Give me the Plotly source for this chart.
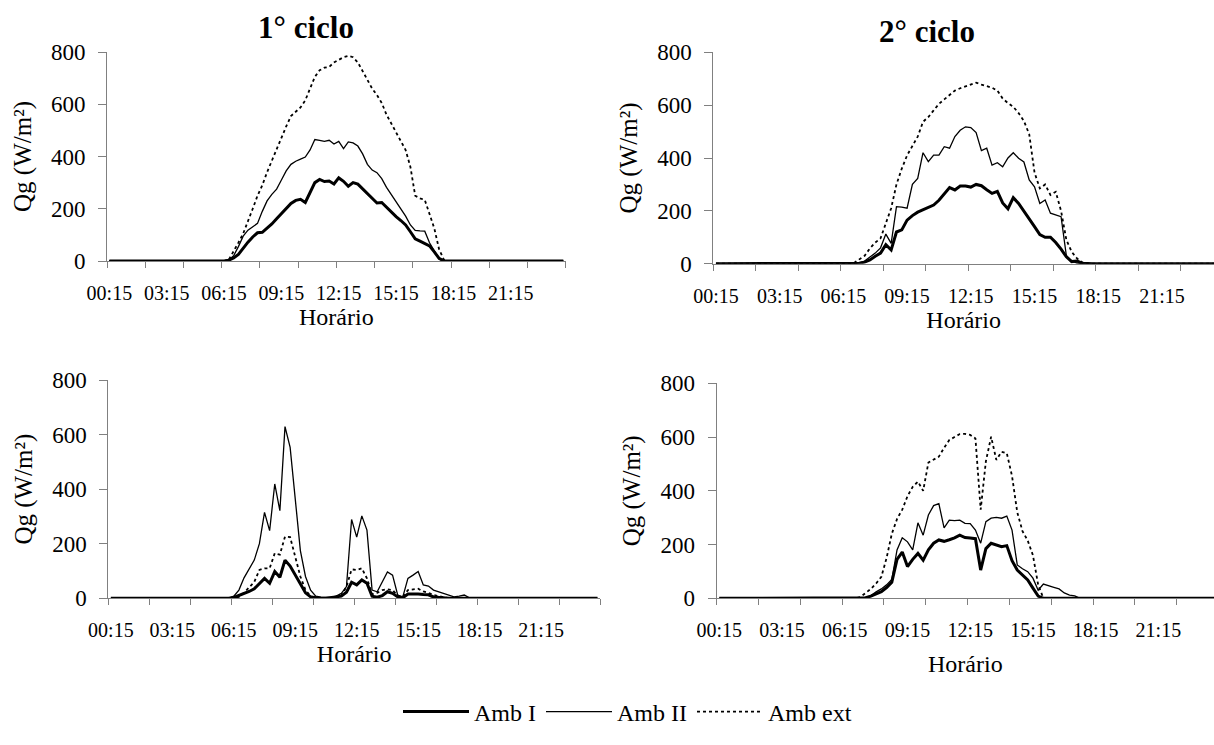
import numpy as np
import plotly.graph_objects as go

# ---------------- data ----------------
# 96 quarter-hour readings: 00:15 ... 24:00
horarios = [f"{((i + 1) * 15) // 60:02d}:{((i + 1) * 15) % 60:02d}" for i in range(96)]
tick_labels = ["00:15", "03:15", "06:15", "09:15", "12:15", "15:15", "18:15", "21:15"]
y_ticks = [0, 200, 400, 600, 800]

# 1st cycle, top panel
c1a_amb1 = [0] * 25 + [3, 12, 25, 50, 72, 92, 108, 110, 126, 142, 162, 180, 200, 220, 232, 236, 224, 262, 300, 312,
                       304, 306, 295, 318, 305, 286, 300, 294, 275, 256, 238, 222, 224, 205, 186, 170, 155, 138, 112, 85,
                       76, 68, 58, 35, 10] + [0] * 26
c1a_amb2 = [0] * 25 + [4, 20, 55, 95, 118, 132, 144, 190, 230, 255, 275, 310, 345, 370, 382, 390, 398, 425, 465, 462,
                       458, 462, 448, 458, 430, 456, 452, 440, 410, 370, 348, 338, 315, 282, 255, 228, 200, 172, 138, 117,
                       115, 114, 70, 38, 8] + [0] * 26
c1a_ext = [0] * 25 + [5, 35, 70, 105, 150, 200, 250, 290, 340, 385, 430, 475, 515, 555, 570, 588, 615, 660, 705, 730,
                      740, 743, 760, 770, 780, 785, 780, 760, 728, 695, 660, 635, 605, 560, 525, 490, 455, 425, 360, 250,
                      240, 234, 180, 125, 45, 5] + [0] * 25

# 2nd cycle, top panel
c2a_amb1 = [0] * 27 + [2, 6, 14, 28, 40, 72, 52, 120, 128, 165, 182, 195, 205, 215, 222, 240, 262, 288, 279, 294,
                       294, 290, 300, 295, 280, 266, 274, 230, 208, 250, 228, 200, 170, 140, 110, 100, 100, 80, 55, 26,
                       8, 10, 2] + [0] * 26
c2a_amb2 = [0] * 27 + [3, 10, 25, 40, 60, 112, 77, 216, 214, 210, 300, 323, 420, 386, 411, 411, 443, 437, 481, 505,
                       518, 515, 496, 428, 437, 373, 382, 367, 400, 420, 399, 385, 317, 291, 228, 241, 191, 185, 178, 30,
                       10, 2] + [0] * 27
c2a_ext = [0] * 26 + [3, 15, 30, 58, 80, 96, 150, 210, 300, 360, 410, 445, 481, 537, 555, 580, 605, 622, 640, 655,
                      664, 672, 680, 685, 678, 672, 666, 655, 625, 608, 594, 570, 540, 490, 345, 285, 300, 260, 272, 200,
                      90, 45, 20, 5] + [0] * 26

# 1st cycle, bottom panel
c1b_amb1 = [0] * 24 + [3, 10, 18, 25, 35, 55, 73, 55, 98, 77, 140, 118, 85, 55, 20, 5, 2, 0, 0, 2,
                       4, 8, 22, 59, 49, 67, 55, 8, 4, 10, 24, 18, 5, 2, 16, 17, 16, 14, 13, 5,
                       3, 2] + [0] * 30
c1b_amb2 = [0] * 24 + [8, 30, 75, 108, 140, 200, 315, 248, 419, 321, 629, 553, 370, 175, 80, 30, 8, 4, 3, 3,
                       8, 18, 43, 289, 224, 302, 250, 30, 24, 60, 97, 85, 12, 5, 73, 85, 98, 49, 45, 30,
                       24, 18, 12, 5, 8, 12, 2] + [0] * 25
c1b_ext = [0] * 24 + [2, 5, 20, 40, 60, 104, 110, 110, 165, 160, 226, 224, 150, 80, 30, 8, 2, 0, 0, 2,
                      5, 10, 43, 106, 104, 110, 73, 15, 20, 30, 33, 30, 10, 5, 30, 33, 35, 25, 20, 12,
                      8, 4] + [0] * 30

# 2nd cycle, bottom panel
c2b_amb1 = [0] * 28 + [2, 8, 18, 25, 40, 60, 145, 172, 118, 145, 167, 142, 180, 205, 217, 212, 218, 225, 235, 226,
                       224, 222, 105, 185, 205, 198, 192, 196, 140, 105, 85, 68, 38, 8] + [0] * 34
c2b_amb2 = [0] * 28 + [3, 10, 24, 35, 50, 70, 180, 225, 210, 180, 281, 235, 310, 345, 352, 262, 291, 289, 291, 279,
                       278, 254, 205, 285, 298, 301, 298, 306, 254, 124, 110, 99, 75, 30, 53, 48, 41, 35, 20, 12,
                       9] + [0] * 27
c2b_ext = [0] * 27 + [5, 19, 35, 55, 80, 150, 240, 295, 330, 380, 415, 434, 400, 505, 515, 527, 560, 589, 600, 611,
                      612, 608, 595, 330, 510, 601, 515, 545, 540, 455, 320, 250, 215, 160, 50] + [0] * 34

series_names = ["Amb I", "Amb II", "Amb ext"]

# ---------------- style ----------------
FONT = "Liberation Serif, Times New Roman, serif"
GRAY = "#808080"
W, H = 1214, 745
styles = [
    dict(color="black", width=3),
    dict(color="black", width=1.3),
    dict(color="black", width=1.8, dash="3px,3px"),
]

pos = np.arange(len(horarios)) + 0.5   # category centres on a 0..96 axis

# panel geometry in pixels: (x_left, x_right_full_axis, y_zero, y_800, title_standoff)
panels = [
    (dict(zip(series_names, [c1a_amb1, c1a_amb2, c1a_ext])), 107.0, 565.7, 261.0, 52.0, 2),
    (dict(zip(series_names, [c2a_amb1, c2a_amb2, c2a_ext])), 713.3, 1223.0, 263.7, 52.3, 4),
    (dict(zip(series_names, [c1b_amb1, c1b_amb2, c1b_ext])), 108.3, 600.0, 598.3, 380.0, 4),
    (dict(zip(series_names, [c2b_amb1, c2b_amb2, c2b_ext])), 716.7, 1218.5, 598.3, 383.3, 14),
]

fig = go.Figure()
layout = {}
for k, (data, xl, xr_full, y0, y8, stand) in enumerate(panels):
    sfx = "" if k == 0 else str(k + 1)
    xr = min(xr_full, W)
    xmax = 96 * (xr - xl) / (xr_full - xl)
    for j, name in enumerate(series_names):
        fig.add_trace(go.Scatter(
            x=pos, y=data[name], mode="lines", name=name,
            line=styles[j], showlegend=(k == 0), legendgroup=name,
            customdata=horarios, hovertemplate="%{customdata}: %{y}<extra>" + name + "</extra>",
            xaxis="x" + sfx, yaxis="y" + sfx,
        ))
    layout["xaxis" + sfx] = dict(
        domain=[xl / W, xr / W], range=[0, xmax], anchor="y" + sfx,
        showline=True, linecolor=GRAY, linewidth=1, showgrid=False, zeroline=False,
        tickmode="array", tickvals=[p + 0.5 for p in range(0, 96, 12)], ticktext=tick_labels,
        ticks="", ticklabelstandoff=14,
        tickfont=dict(family=FONT, size=20, color="black"),
        minor=dict(tickmode="array", tickvals=list(range(0, 97, 8)), ticks="outside",
                   ticklen=6, tickcolor=GRAY, tickwidth=1, showgrid=False),
        title=dict(text="Horário", font=dict(family=FONT, size=24, color="black"), standoff=stand),
        automargin=False, fixedrange=True,
    )
    layout["yaxis" + sfx] = dict(
        domain=[1 - y0 / H, 1 - y8 / H], range=[0, 800], anchor="x" + sfx,
        showline=True, linecolor=GRAY, linewidth=1, showgrid=False, zeroline=False,
        tickmode="array", tickvals=y_ticks, ticks="outside", ticklen=8, tickcolor=GRAY,
        ticklabelstandoff=8,
        tickfont=dict(family=FONT, size=23, color="black"),
        title=dict(text="Qg (W/m²)", font=dict(family=FONT, size=25, color="black"), standoff=12),
        automargin=False, fixedrange=True,
    )

fig.update_layout(
    **layout,
    width=W, height=H, template="none",
    margin=dict(l=0, r=0, t=0, b=0),
    paper_bgcolor="white", plot_bgcolor="white",
    font=dict(family=FONT, color="black"),
    showlegend=True,
    legend=dict(orientation="h", x=398 / W, y=1 - 712 / H, xanchor="left", yanchor="middle",
                font=dict(family=FONT, size=24, color="black"), itemwidth=66,
                bgcolor="rgba(0,0,0,0)"),
    annotations=[
        dict(text="<b>1° ciclo</b>", x=306 / W, y=1 - 28 / H, xref="paper", yref="paper",
             xanchor="center", yanchor="middle",
             showarrow=False, font=dict(family=FONT, size=31, color="black")),
        dict(text="<b>2° ciclo</b>", x=927 / W, y=1 - 31 / H, xref="paper", yref="paper",
             xanchor="center", yanchor="middle",
             showarrow=False, font=dict(family=FONT, size=31, color="black")),
    ],
)

fig.write_html("out.html")
